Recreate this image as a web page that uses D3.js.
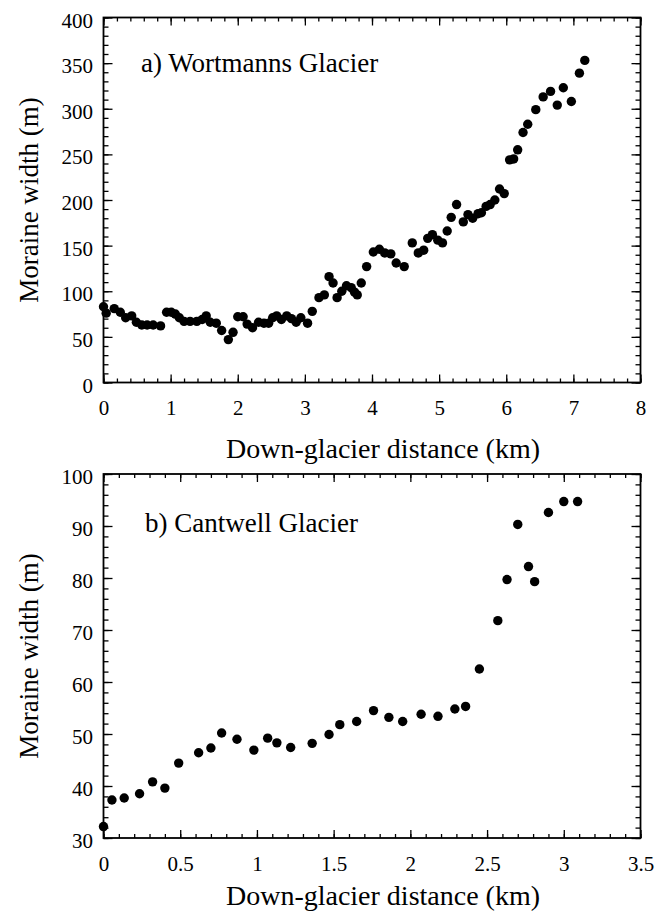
<!DOCTYPE html>
<html>
<head>
<meta charset="utf-8">
<script src="https://cdn.jsdelivr.net/npm/d3@7/dist/d3.min.js"></script>
<style>
  html, body { margin: 0; padding: 0; background: #fff; }
  svg { display: block; }
  text { font-family: "Liberation Serif", "Times New Roman", serif; fill: #000; }
</style>
</head>
<body>
<svg id="chart" width="664" height="911"></svg>
<script>
// ---------- Data: a) Wortmanns Glacier ----------
const wortmannsDistance = [0.00,0.04,0.16,0.25,0.33,0.42,0.49,0.57,0.65,0.74,0.85,0.94,1.01,1.07,1.13,1.20,1.29,1.39,1.47,1.53,1.59,1.68,1.76,1.86,1.93,2.00,2.08,2.14,2.22,2.31,2.39,2.46,2.52,2.58,2.65,2.73,2.80,2.87,2.94,3.04,3.11,3.21,3.29,3.36,3.42,3.48,3.55,3.62,3.69,3.74,3.78,3.84,3.92,4.02,4.11,4.19,4.28,4.36,4.48,4.60,4.69,4.77,4.83,4.90,4.98,5.05,5.12,5.18,5.26,5.36,5.43,5.50,5.58,5.63,5.70,5.76,5.83,5.90,5.97,6.05,6.11,6.17,6.25,6.32,6.44,6.55,6.66,6.76,6.85,6.97,7.09,7.17];
const wortmannsWidth = [83,76,81,77,71,73,66,63,63,63,62,77,77,75,71,67,67,67,69,73,66,65,57,47,55,72,72,64,60,66,65,65,71,73,69,73,70,66,71,65,78,93,96,116,109,93,100,106,104,99,96,109,127,143,146,142,141,131,127,153,142,145,158,162,156,153,166,181,195,176,184,180,185,186,193,195,200,212,207,244,245,255,274,283,299,313,319,304,323,308,339,353];
const wortmannsXTicks = [0,1,2,3,4,5,6,7,8];
const wortmannsYTicks = [0,50,100,150,200,250,300,350,400];

// ---------- Data: b) Cantwell Glacier ----------
const cantwellDistance = [0.00,0.055,0.135,0.235,0.32,0.40,0.49,0.62,0.70,0.77,0.87,0.98,1.07,1.13,1.22,1.36,1.47,1.54,1.65,1.76,1.86,1.95,2.07,2.18,2.29,2.36,2.45,2.57,2.63,2.70,2.77,2.81,2.90,3.00,3.09];
const cantwellWidth = [32.2,37.3,37.7,38.5,40.8,39.6,44.4,46.4,47.3,50.2,49.0,46.9,49.2,48.3,47.4,48.2,49.9,51.8,52.4,54.5,53.2,52.4,53.8,53.4,54.8,55.3,62.5,71.8,79.7,90.3,82.2,79.3,92.6,94.7,94.7];
const cantwellXTicks = [0,0.5,1,1.5,2,2.5,3,3.5];
const cantwellYTicks = [30,40,50,60,70,80,90,100];

// ---------- Text ----------
const xTitle = "Down-glacier distance (km)";
const yTitle = "Moraine width (m)";
const panelLabels = ["a) Wortmanns Glacier", "b) Cantwell Glacier"];

const svg = d3.select("#chart");

const panels = [
  {
    xs: wortmannsDistance, ys: wortmannsWidth,
    xTicks: wortmannsXTicks, yTicks: wortmannsYTicks,
    xMinorStep: 0.2, yMinorStep: 10,
    label: panelLabels[0],
    box: {left: 103.5, right: 640.5, top: 17.5, bottom: 382.5},
    labelPos: {x: 141, y: 72},
    xTitleY: 458
  },
  {
    xs: cantwellDistance, ys: cantwellWidth,
    xTicks: cantwellXTicks, yTicks: cantwellYTicks,
    xMinorStep: 0.1, yMinorStep: 2,
    label: panelLabels[1],
    box: {left: 103.5, right: 640.5, top: 474, bottom: 838},
    labelPos: {x: 145, y: 532},
    xTitleY: 905
  }
];

function minorTicks(domain, step) {
  const n = Math.round((domain[1] - domain[0]) / step);
  return d3.range(n + 1).map(i => +(domain[0] + i * step).toFixed(6));
}

panels.forEach(p => {
  const b = p.box;
  const W = b.right - b.left, H = b.bottom - b.top;
  const xDom = d3.extent(p.xTicks), yDom = d3.extent(p.yTicks);
  const x = d3.scaleLinear().domain(xDom).range([0, W]);
  const y = d3.scaleLinear().domain(yDom).range([H, 0]);
  const g = svg.append("g").attr("transform", `translate(${b.left},${b.top})`);

  const xMinor = minorTicks(xDom, p.xMinorStep);
  const yMinor = minorTicks(yDom, p.yMinorStep);

  const style = sel => {
    sel.select(".domain").remove();
    sel.selectAll(".tick line").attr("stroke", "#000").attr("stroke-width", 1.3);
  };

  // minor ticks on all four sides
  g.append("g").attr("transform", `translate(0,${H})`)
    .call(d3.axisBottom(x).tickValues(xMinor).tickSize(-4).tickFormat(""))
    .call(style);
  g.append("g")
    .call(d3.axisTop(x).tickValues(xMinor).tickSize(-4).tickFormat(""))
    .call(style);
  g.append("g")
    .call(d3.axisLeft(y).tickValues(yMinor).tickSize(-5).tickFormat(""))
    .call(style);
  g.append("g").attr("transform", `translate(${W},0)`)
    .call(d3.axisRight(y).tickValues(yMinor).tickSize(-5).tickFormat(""))
    .call(style);

  // major ticks
  const xb = g.append("g").attr("transform", `translate(0,${H})`)
    .call(d3.axisBottom(x).tickValues(p.xTicks).tickSize(-8).tickFormat(d => String(d)))
    .call(style);
  xb.selectAll(".tick text")
    .attr("y", 32.5).attr("dy", 0)
    .style("font-size", "21px");
  g.append("g")
    .call(d3.axisTop(x).tickValues(p.xTicks).tickSize(-8).tickFormat(""))
    .call(style);
  const yl = g.append("g")
    .call(d3.axisLeft(y).tickValues(p.yTicks).tickSize(-9).tickPadding(10.5).tickFormat(d => String(d)))
    .call(style);
  yl.selectAll(".tick text")
    .attr("dy", 0).attr("y", 9.5)
    .style("font-size", "21px");
  g.append("g").attr("transform", `translate(${W},0)`)
    .call(d3.axisRight(y).tickValues(p.yTicks).tickSize(-9).tickFormat(""))
    .call(style);

  // frame
  g.append("rect")
    .attr("x", 0).attr("y", 0).attr("width", W).attr("height", H)
    .attr("fill", "none").attr("stroke", "#000").attr("stroke-width", 1.8);

  // points
  g.append("g").selectAll("circle")
    .data(p.xs.map((d, i) => [d, p.ys[i]]))
    .join("circle")
    .attr("cx", d => x(d[0]))
    .attr("cy", d => y(d[1]))
    .attr("r", 4.7)
    .attr("fill", "#000");

  // panel label
  svg.append("text")
    .attr("x", p.labelPos.x).attr("y", p.labelPos.y)
    .style("font-size", "27px")
    .text(p.label);

  // x title
  svg.append("text")
    .attr("x", 383).attr("y", p.xTitleY)
    .attr("text-anchor", "middle")
    .style("font-size", "28px")
    .text(xTitle);

  // y title
  svg.append("text")
    .attr("transform", `translate(38,${b.top + H / 2}) rotate(-90)`)
    .attr("text-anchor", "middle")
    .style("font-size", "27px")
    .text(yTitle);
});
</script>
</body>
</html>
